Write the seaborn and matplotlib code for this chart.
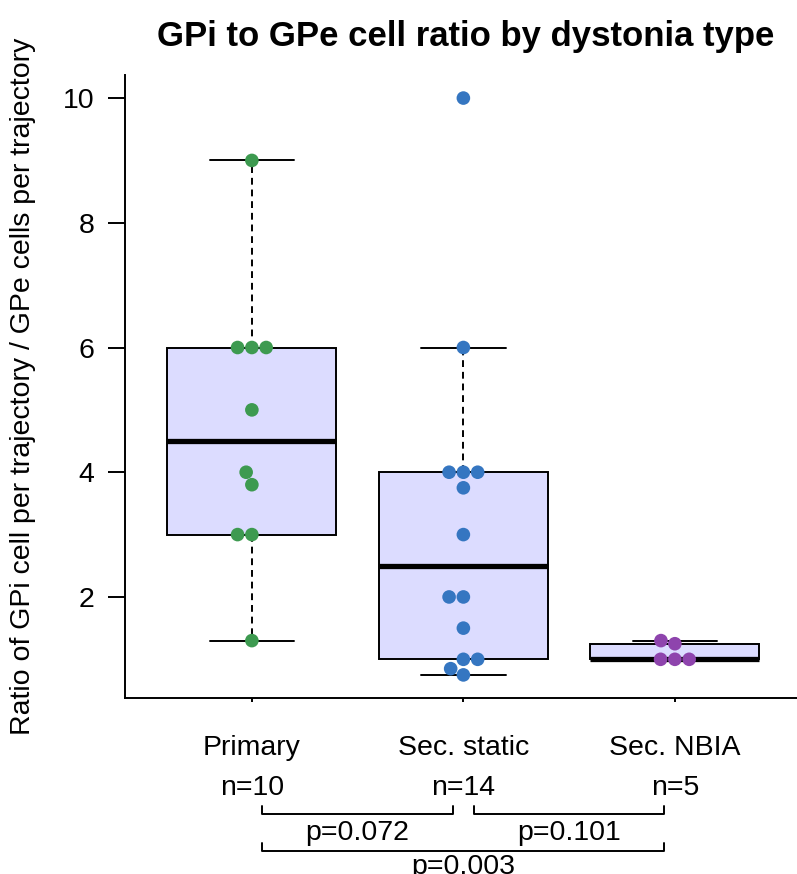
import matplotlib
matplotlib.use("Agg")
import matplotlib.pyplot as plt
import seaborn as sns
import numpy as np
import pandas as pd

# values
groups = ["Primary", "Sec. static", "Sec. NBIA"]
primary = [9, 6, 6, 6, 5, 4, 3.8, 3, 3, 1.3]
sec_static = [10, 6, 4, 4, 4, 3.75, 3, 2, 2, 1.5, 1, 1, 0.85, 0.75]
sec_nbia = [1.3, 1.25, 1, 1, 1]
point_colors = ["#3d9a50", "#3576c1", "#8e44ad"]
box_fill = "#dcdcff"

# pairwise comparisons (group index a, group index b, label)
comparisons = [(0, 1, "p=0.072"), (1, 2, "p=0.101"), (0, 2, "p=0.003")]

values = [primary, sec_static, sec_nbia]
df = pd.DataFrame({
    "group": np.repeat(groups, [len(v) for v in values]),
    "ratio": np.concatenate(values),
})


def tukey_stats(v):
    # R style boxplot: hinges from fivenum, whiskers within 1.5 * hinge spread
    v = np.sort(np.asarray(v, dtype=float))
    n = len(v)
    n4 = np.floor((n + 3) / 2) / 2
    d = np.array([1, n4, (n + 1) / 2, n + 1 - n4, n]) - 1
    fn = 0.5 * (v[np.floor(d).astype(int)] + v[np.ceil(d).astype(int)])
    iqr = fn[3] - fn[1]
    lo = v[v >= fn[1] - 1.5 * iqr].min()
    hi = v[v <= fn[3] + 1.5 * iqr].max()
    return dict(med=fn[2], q1=fn[1], q3=fn[3], whislo=lo, whishi=hi, fliers=[])


sns.set_style("ticks")
plt.rcParams["font.family"] = ["Liberation Sans", "DejaVu Sans"]
plt.rcParams["text.color"] = "black"
plt.rcParams["axes.labelcolor"] = "black"

fig = plt.figure(figsize=(7.97, 8.74), dpi=100)
ax = fig.add_axes([0.1568, 0.2014, 0.8545, 0.7128])

lw = 1.4
ax.bxp([tukey_stats(v) for v in values], positions=range(len(groups)),
       widths=0.8, capwidths=0.4, patch_artist=True, showfliers=False,
       manage_ticks=False,
       boxprops=dict(facecolor=box_fill, edgecolor="black", linewidth=lw),
       medianprops=dict(color="black", linewidth=3.8, solid_capstyle="butt"),
       whiskerprops=dict(color="black", linewidth=lw, linestyle=(0, (3.5, 2.5))),
       capprops=dict(color="black", linewidth=lw))

sns.swarmplot(data=df, x="group", y="ratio", hue="group", order=groups,
              hue_order=groups, palette=point_colors, size=9.8, linewidth=0,
              legend=False, ax=ax, zorder=3)

ax.set_xlim(-0.6, 2.62)
ax.set_ylim(0.38, 10.37)
ax.set_yticks([2, 4, 6, 8, 10])
ax.set_xticks(range(len(groups)))
ax.set_xticklabels(groups)
ax.set_xlabel("")
ax.set_ylabel("Ratio of GPi cell per trajectory / GPe cells per trajectory",
              fontsize=20.5, va="center")
ax.yaxis.set_label_coords(-0.1498, 0.5)
ax.set_title("GPi to GPe cell ratio by dystonia type", fontsize=25,
             fontweight="bold", pad=21)

ax.tick_params(axis="y", labelsize=20.5, length=12.2, width=lw, pad=10,
               color="black", labelcolor="black")
ax.tick_params(axis="x", labelsize=20.5, length=3, width=lw, pad=24,
               color="black", labelcolor="black")
sns.despine(ax=ax)
for s in ["left", "bottom"]:
    ax.spines[s].set_linewidth(lw)
    ax.spines[s].set_color("black")

# group sizes under the category names
trans = ax.get_xaxis_transform()
for i, v in enumerate(values):
    ax.text(i, -0.1557, "n=%d" % len(v), transform=trans, ha="center",
            va="baseline", fontsize=20.5)

# comparison brackets with p-values
levels = {(0, 1): 0, (1, 2): 0, (0, 2): 1}
for a, b, label in comparisons:
    lev = levels[(a, b)]
    y = -0.1862 - lev * 0.0594
    ax.plot([a + 0.05, a + 0.05, b - 0.05, b - 0.05],
            [y + 0.0128, y, y, y + 0.0128], transform=trans, clip_on=False,
            color="black", lw=lw)
    ax.text((a + b) / 2, y - 0.0417 + lev * 0.005, label, transform=trans,
            ha="center", va="baseline", fontsize=20.5)

fig.savefig("out.png", dpi=100)
